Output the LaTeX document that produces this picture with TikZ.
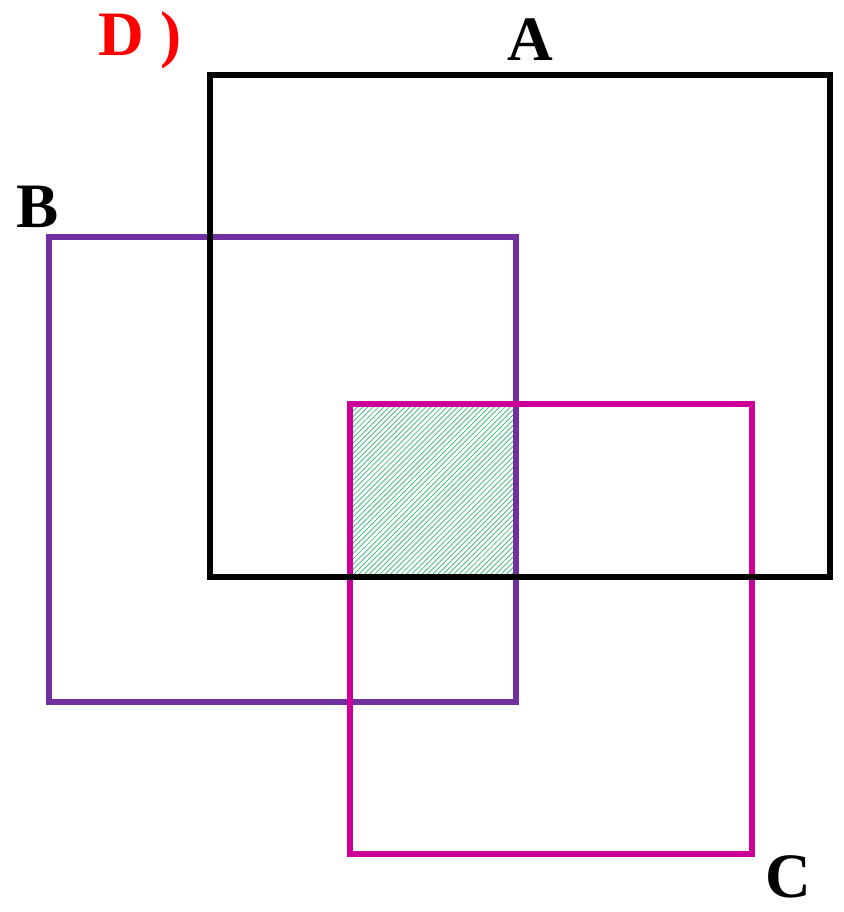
\documentclass[tikz,border=0pt]{standalone}
\usepackage{fontspec}
\setmainfont{Liberation Serif}
\usepackage{tikz}
\usetikzlibrary{patterns}
\definecolor{sPurple}{HTML}{7030A0}
\definecolor{sMagenta}{HTML}{CC0099}
\definecolor{sGreen}{HTML}{2FB56E}
\tikzset{
  setbox/.style={line width=3.8pt},
  setlabel/.style={font=\fontsize{36}{42}\selectfont\bfseries, inner sep=0pt}
}

\begin{document}
\begin{tikzpicture}[x=0.02cm, y=-0.02cm]
    \useasboundingbox (0,0) rectangle (843,912);
    % shaded part: A and B and C
    \fill[pattern=north east lines, pattern color=sGreen] (350,404) rectangle (516,577);
    \draw[setbox, sPurple] (49,237) rectangle (516,702);
    \draw[setbox, sMagenta] (350,404) rectangle (752,854);
    \draw[setbox, black] (210,75) rectangle (830,577);
    \node[setlabel, text=red] (partD) at (140,40) {D )};
    \node[setlabel] (setA) at (530,40) {A};
    \node[setlabel] (setB) at (38,207) {B};
    \node[setlabel] (setC) at (788,877) {C};
  \end{tikzpicture}
\end{document}
